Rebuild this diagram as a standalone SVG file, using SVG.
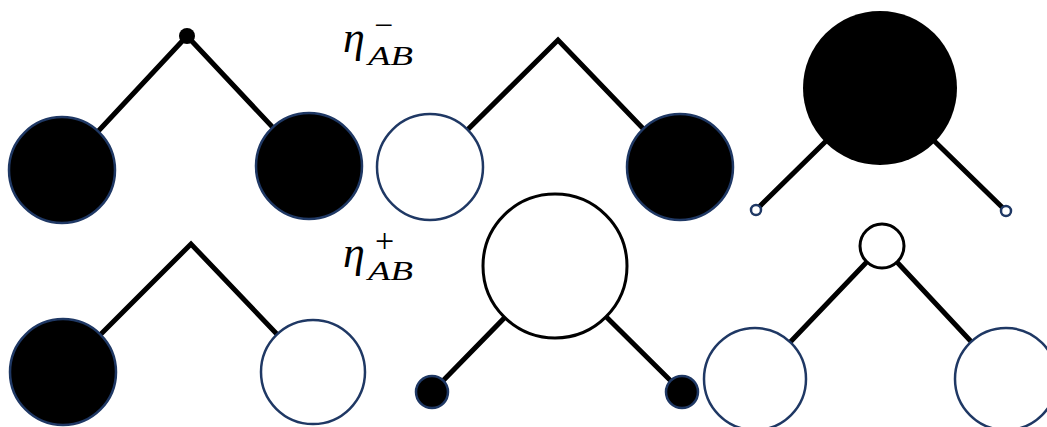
<svg xmlns="http://www.w3.org/2000/svg" width="1047" height="427" viewBox="0 0 1047 427">
<style>
.edge{fill:none;stroke:#000;stroke-width:5;stroke-linejoin:miter;stroke-miterlimit:10}
.bn{fill:#000;stroke:#1f3864;stroke-width:2.5}
.wn{fill:#fff;stroke:#1f3864;stroke-width:2.5}
.wk{fill:#fff;stroke:#000;stroke-width:3}
.lbl{font-family:"Liberation Serif",serif;font-style:italic;fill:#000}
.op{font-family:"Liberation Serif",serif;fill:#000}
</style>
<rect width="1047" height="427" fill="#fff"/>
<g id="connectors">
<polyline class="edge" points="62,170 187,36 309,166"/>
<polyline class="edge" points="430,167 558,40 680,167"/>
<polyline class="edge" points="756,210 880,88 1006,211"/>
<polyline class="edge" points="63,372 191,244 313,372"/>
<polyline class="edge" points="432,392 555,266 682,392"/>
<polyline class="edge" points="755,379 882,246 1006,379"/>
</g>
<g id="d1">
<circle cx="187" cy="36" r="8" fill="#000"/>
<circle class="bn" cx="62" cy="170" r="53"/>
<circle class="bn" cx="309" cy="166" r="53"/>
</g>
<g id="d2">
<circle class="wn" cx="430" cy="167" r="53"/>
<circle class="bn" cx="680" cy="167" r="53"/>
</g>
<g id="d3">
<circle cx="880" cy="88" r="77" fill="#000"/>
<circle class="wn" cx="756" cy="210" r="5" stroke-width="2"/>
<circle class="wn" cx="1006" cy="211" r="5" stroke-width="2"/>
</g>
<g id="d4">
<circle class="bn" cx="63" cy="372" r="53"/>
<circle class="wn" cx="313" cy="372" r="52"/>
</g>
<g id="d5">
<circle class="wk" cx="555" cy="266" r="72"/>
<circle class="bn" cx="432" cy="392" r="16"/>
<circle class="bn" cx="682" cy="392" r="16"/>
</g>
<g id="d6">
<circle class="wk" cx="882" cy="246" r="22"/>
<circle class="wn" cx="755" cy="379" r="51"/>
<circle class="wn" cx="1006" cy="379" r="51"/>
</g>
<g id="label-minus">
<text class="lbl" x="343" y="52" font-size="44">η</text>
<text class="lbl" x="368" y="65" font-size="27" textLength="45" lengthAdjust="spacingAndGlyphs">AB</text>
<text class="op" x="374" y="36" font-size="32" textLength="19" lengthAdjust="spacingAndGlyphs">−</text>
</g>
<g id="label-plus">
<text class="lbl" x="343" y="267" font-size="44">η</text>
<text class="lbl" x="368" y="280" font-size="27" textLength="45" lengthAdjust="spacingAndGlyphs">AB</text>
<text class="op" x="375" y="252" font-size="34">+</text>
</g>
</svg>
